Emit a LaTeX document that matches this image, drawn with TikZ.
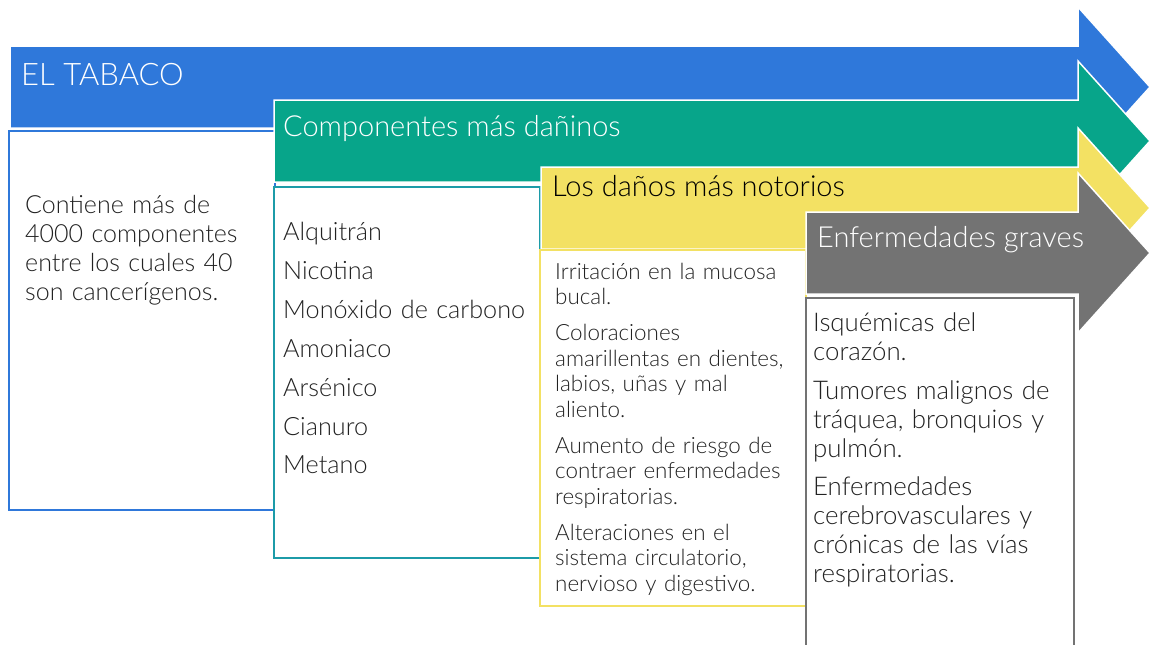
\documentclass[tikz,border=0pt]{standalone}
\usepackage{fontspec}
\setmainfont{Lato Light}
\definecolor{tabblue}{HTML}{2F78DA}
\definecolor{tabgreen}{HTML}{07A58A}
\definecolor{tabteal}{HTML}{1C9BA8}
\definecolor{tabyellow}{HTML}{F3E163}
\definecolor{tabgray}{HTML}{737373}
\definecolor{tabtext}{HTML}{222222}

% stair arrow: start x, centre y, colour
\newcommand{\stairarrow}[3]{%
  \path[fill=#3,draw=white,line width=1.5pt]
    (#1,#2-41) -- (1078,#2-41) -- (1078,#2-80) -- (1150,#2)
    -- (1078,#2+80) -- (1078,#2+41) -- (#1,#2+41) -- cycle;}

\begin{document}
\begin{tikzpicture}[x=1pt,y=-1pt]
\tikzset{
  headtext/.style={anchor=base west,inner sep=0pt,font=\fontsize{29}{34}\selectfont},
  stairbox/.style={fill=white,line width=1.8pt},
  bodytext/.style={anchor=north west,inner sep=0pt,align=left,text=tabtext,text width=270pt}
}
\useasboundingbox (0,0) rectangle (1149,645);
\fill[white] (0,0) rectangle (1149,645);

% level 1
\stairarrow{10}{87}{tabblue}
\draw[stairbox,draw=tabblue] (9,131) rectangle (275,510);
\node[headtext,text=white,font=\fontsize{31}{36}\selectfont] (h_tabaco) at (21,85) {EL TABACO};
\node[bodytext,font=\fontsize{25}{29}\selectfont] (b_tabaco) at (25,195)
  {Contiene más de\\4000 componentes\\entre los cuales 40\\son cancerígenos.};

% level 2
\stairarrow{274}{141}{tabgreen}
\draw[stairbox,draw=tabteal] (274,187) rectangle (540,558);
\node[headtext,text=white] (h_comp) at (283,136) {Componentes más dañinos};
\node[bodytext,font=\fontsize{25.2}{38.9}\selectfont] (b_comp) at (283,222)
  {Alquitrán\\Nicotina\\Monóxido de carbono\\Amoniaco\\Arsénico\\Cianuro\\Metano};

% level 3
\stairarrow{541}{208}{tabyellow}
\draw[stairbox,draw=tabyellow] (540,250) rectangle (806,606);
\node[headtext,text=black] (h_danos) at (552,196) {Los daños más notorios};
\node[bodytext,font=\fontsize{22.4}{25.5}\selectfont] (b_danos) at (555,263)
  {\setlength{\parskip}{10.5pt}%
   Irritación en la mucosa\\bucal.\par
   Coloraciones\\amarillentas en dientes,\\labios, uñas y mal\\aliento.\par
   Aumento de riesgo de\\contraer enfermedades\\respiratorias.\par
   Alteraciones en el\\sistema circulatorio,\\nervioso y digestivo.};

% level 4
\stairarrow{806}{253}{tabgray}
\draw[stairbox,draw=tabgray] (806,298) rectangle (1074,660);
\node[headtext,text=white] (h_enf) at (817,247) {Enfermedades graves};
\node[bodytext,font=\fontsize{25.8}{28.8}\selectfont] (b_enf) at (813,313)
  {\setlength{\parskip}{10pt}%
   Isquémicas del\\corazón.\par
   Tumores malignos de\\tráquea, bronquios y\\pulmón.\par
   Enfermedades\\cerebrovasculares y\\crónicas de las vías\\respiratorias.};
\end{tikzpicture}
\end{document}
